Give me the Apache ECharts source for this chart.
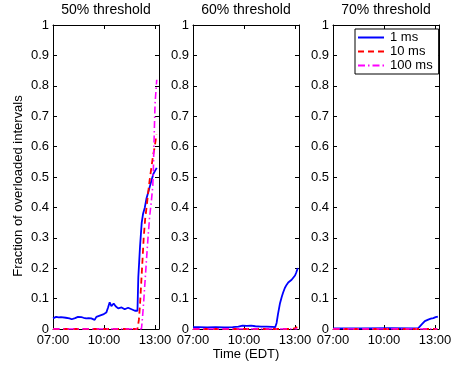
<!DOCTYPE html>
<html><head><meta charset="utf-8">
<script src="https://cdn.jsdelivr.net/npm/echarts@6/dist/echarts.min.js"></script>
<style>html,body{margin:0;padding:0;background:#fff}#c{width:459px;height:366px}</style>
</head><body><div id="c"></div>
<script>
// minutes after 07:00
const panelTitles = ['50% threshold', '60% threshold', '70% threshold'];
const seriesNames = ['1 ms', '10 ms', '100 ms'];
const xTickLabels = ['07:00', '10:00', '13:00'];

// 50% threshold
const p50_ms1_t = [0,6,11,20,28,35,45,58,66,70,78,88,95,100,108,117,126,135,142,147,153,159,165,171,177,182,188,194,200,203,206,210,214,218,221,226,230,236,242,248,253,259,265,271,277,283,289,295,298,301,304,307,310,313,318,324,330,336,342,348,354,360,366];
const p50_ms1_v = [0.035,0.038,0.040,0.038,0.039,0.039,0.037,0.035,0.032,0.030,0.036,0.040,0.038,0.039,0.037,0.035,0.036,0.035,0.033,0.030,0.040,0.046,0.044,0.043,0.048,0.052,0.054,0.070,0.088,0.082,0.075,0.080,0.084,0.078,0.075,0.070,0.068,0.070,0.071,0.068,0.065,0.068,0.070,0.067,0.065,0.063,0.060,0.057,0.060,0.170,0.220,0.270,0.310,0.350,0.380,0.400,0.430,0.450,0.470,0.490,0.510,0.520,0.530];
const p50_ms10_t = [0,298,303,307,310,313,316,320,325,330,336,341,347,353,359,365];
const p50_ms10_v = [0,0,0.03,0.08,0.13,0.18,0.23,0.30,0.36,0.40,0.45,0.49,0.53,0.57,0.60,0.64];
const p50_ms100_t = [0,312,316,320,325,330,336,341,347,352,354,356,358,360,363,366];
const p50_ms100_v = [0,0,0.04,0.09,0.16,0.23,0.31,0.37,0.42,0.47,0.52,0.60,0.67,0.74,0.78,0.82];

// 60% threshold
const p60_ms1_t = [0,20,50,80,110,140,160,175,190,205,220,240,260,280,290,295,300,307,313,318,324,330,336,342,348,354,360,364,368,370];
const p60_ms1_v = [0.006,0.006,0.005,0.006,0.005,0.006,0.008,0.011,0.010,0.011,0.009,0.008,0.008,0.007,0.006,0.020,0.050,0.085,0.105,0.120,0.135,0.145,0.153,0.156,0.162,0.167,0.176,0.185,0.196,0.200];
const p60_ms10_t = [0,350,360,368];
const p60_ms10_v = [0,0,0.003,0.006];
const p60_ms100_t = [0,368];
const p60_ms100_v = [0,0];

// 70% threshold
const p70_ms1_t = [0,100,200,290,301,307,313,318,324,330,336,345,354,362,370];
const p70_ms1_v = [0.002,0.002,0.003,0.002,0.003,0.008,0.015,0.021,0.026,0.029,0.031,0.034,0.036,0.039,0.041];
const p70_ms10_t = [0,368];
const p70_ms10_v = [0,0];
const p70_ms100_t = [0,368];
const p70_ms100_v = [0,0];

const panels = [
  [[p50_ms1_t,p50_ms1_v],[p50_ms10_t,p50_ms10_v],[p50_ms100_t,p50_ms100_v]],
  [[p60_ms1_t,p60_ms1_v],[p60_ms10_t,p60_ms10_v],[p60_ms100_t,p60_ms100_v]],
  [[p70_ms1_t,p70_ms1_v],[p70_ms10_t,p70_ms10_v],[p70_ms100_t,p70_ms100_v]]
];

const FONT = 'Liberation Sans, Arial, Helvetica, sans-serif';
const colors = ['#0000ff', '#ff0000', '#ff00ff'];
const lineTypes = ['solid', [6,4], [7,3,1.5,3]];
const widths = [1.8, 1.8, 1.6];
const lefts = [53, 193, 333];
const W = 106, TOP = 25, H = 304;

const grids = [], xAxes = [], yAxes = [], series = [], titles = [];
lefts.forEach((l, i) => {
  grids.push({left: l, top: TOP, width: W, height: H});
  titles.push({text: panelTitles[i], left: l + W/2, top: 3, padding: 0, textAlign: 'center',
    textStyle: {fontFamily: FONT, fontSize: 14, fontWeight: 'normal', color: '#000'}});
  const common = {type: 'value', gridIndex: i, min: 0, max: 374, interval: 180,
    axisLine: {show: true, onZero: false, lineStyle: {color: '#000', width: 1}},
    axisTick: {show: true, inside: true, length: 4, lineStyle: {color: '#000'}},
    splitLine: {show: false}};
  xAxes.push(Object.assign({}, common, {position: 'bottom',
    axisLabel: {show: true, margin: 5, fontFamily: FONT, fontSize: 13, color: '#000',
      formatter: v => xTickLabels[Math.round(v/180)] || ''}}));
  xAxes.push(Object.assign({}, common, {position: 'top', axisLabel: {show: false}}));
  const ycommon = {type: 'value', gridIndex: i, min: 0, max: 1, interval: 0.1,
    axisLine: {show: true, onZero: false, lineStyle: {color: '#000', width: 1}},
    axisTick: {show: true, inside: true, length: 4, lineStyle: {color: '#000'}},
    splitLine: {show: false}};
  yAxes.push(Object.assign({}, ycommon, {position: 'left',
    axisLabel: {show: true, margin: 4, fontFamily: FONT, fontSize: 13, color: '#000',
      formatter: v => (Math.round(v*10)/10).toString()}}));
  yAxes.push(Object.assign({}, ycommon, {position: 'right', axisLabel: {show: false}}));
  panels[i].forEach((pair, s) => {
    const [ts, vs] = pair;
    series.push({type: 'line', name: seriesNames[s], xAxisIndex: 2*i, yAxisIndex: 2*i,
      data: ts.map((t, k) => [t, vs[k]]), showSymbol: false, symbol: 'none',
      animation: false, z: 3 + s,
      lineStyle: {color: colors[s], width: widths[s], type: lineTypes[s]},
      itemStyle: {color: colors[s]}});
  });
});

const chart = echarts.init(document.getElementById('c'), null, {renderer: 'canvas'});
chart.setOption({
  animation: false,
  backgroundColor: '#fff',
  title: titles,
  grid: grids, xAxis: xAxes, yAxis: yAxes, series: series,
  legend: {data: seriesNames, orient: 'vertical', left: 355, top: 29,
    backgroundColor: '#fff', borderColor: '#000', borderWidth: 1,
    padding: [2, 6, 2, 2], itemGap: 1, itemWidth: 26, itemHeight: 12,
    itemStyle: {opacity: 0},
    textStyle: {fontFamily: FONT, fontSize: 13, color: '#000', padding: [0,0,0,1]}},
  graphic: [
    {type: 'text', x: 18, y: 186, rotation: Math.PI/2,
      style: {text: 'Fraction of overloaded intervals', fill: '#000', font: '13px ' + FONT,
        textAlign: 'center', textVerticalAlign: 'middle'}},
    {type: 'text', x: 246, y: 354,
      style: {text: 'Time (EDT)', fill: '#000', font: '13px ' + FONT,
        textAlign: 'center', textVerticalAlign: 'middle'}}
  ]
});
</script></body></html>
